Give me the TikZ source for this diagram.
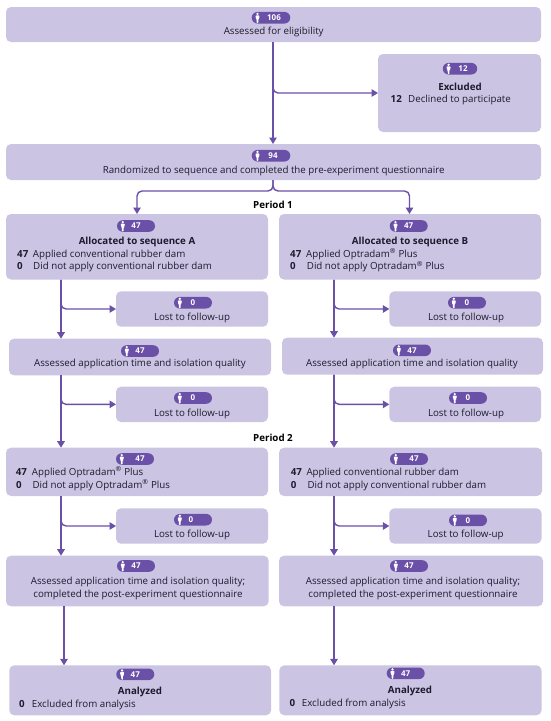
\documentclass[tikz,border=0pt]{standalone}
\usepackage{fontspec}
\setmainfont{Open Sans}
\usetikzlibrary{arrows.meta}
\definecolor{boxfill}{HTML}{CBC5E3}
\definecolor{pillfill}{HTML}{6A50A7}
\definecolor{txt}{HTML}{1E1A2E}
\tikzset{
  x=1pt,y=-1pt,
  flowbox/.style={fill=boxfill,draw=none,rounded corners=5pt,inner sep=0pt,outer sep=0pt},
  pillbox/.style={fill=pillfill,draw=none,rounded corners=5.8pt,inner sep=0pt,minimum height=11.6pt,
    text=white,font=\fontsize{8}{8}\selectfont\bfseries},
  lab/.style={inner sep=0pt,text=txt,anchor=mid,yshift=-0.9pt,font=\fontsize{9.75}{11}\selectfont},
  labb/.style={lab,font=\fontsize{9.75}{11}\selectfont\bfseries},
  labl/.style={lab,anchor=mid west},
  labn/.style={labb,anchor=mid west},
  period/.style={inner sep=0pt,anchor=mid,yshift=-0.9pt,text=black,font=\fontsize{9.75}{11}\selectfont\bfseries},
  flow/.style={draw=pillfill,line width=1.4pt,-{Triangle[length=6.5pt,width=7.5pt]}},
  branch/.style={flow,rounded corners=5pt},
}
% box from corners: name, x1, y1, x2, y2
\newcommand{\flowbox}[5]{\node[flowbox,minimum width=#4pt-#2pt,minimum height=#5pt-#3pt,anchor=north west] (#1) at (#2,#3) {};}
% pill: [number offset], name, cx, cy, width, number
\newcommand{\pillnode}[6][0pt]{%
  \node[pillbox,minimum width=#5pt] (#2) at (#3,#4) {\hspace*{#1}#6};
  \fill[white] ([xshift=6pt,yshift=3.9pt]#2.west) circle (1.3pt);
  \fill[white,rounded corners=0.8pt] ([xshift=3.9pt,yshift=2.4pt]#2.west) -- ([xshift=8.1pt,yshift=2.4pt]#2.west)
     -- ([xshift=7.6pt,yshift=-1pt]#2.west) -- ([xshift=6.9pt,yshift=-1pt]#2.west) -- ([xshift=6.8pt,yshift=-5.5pt]#2.west)
     -- ([xshift=5.2pt,yshift=-5.5pt]#2.west) -- ([xshift=5.1pt,yshift=-1pt]#2.west) -- ([xshift=4.4pt,yshift=-1pt]#2.west) -- cycle;
}
\begin{document}
\begin{tikzpicture}
\useasboundingbox (0,0) rectangle (550,721);
% boxes
\flowbox{elig}{6}{7}{541}{42}
\flowbox{excl}{378}{54}{541}{132}
\flowbox{rand}{6}{144}{541}{180}
\flowbox{seqA}{6}{214}{268}{279.5}
\flowbox{seqB}{279}{214}{541}{279.5}
\flowbox{lostA}{116}{291.3}{268}{326.7}
\flowbox{lostB}{389.3}{291.3}{541}{326.7}
\flowbox{asA}{9}{338.7}{271}{375.3}
\flowbox{asB}{282}{337.7}{543}{374.7}
\flowbox{lostC}{116}{386.7}{268}{422}
\flowbox{lostD}{389.3}{386.7}{541}{422}
\flowbox{appA}{6}{447.7}{268}{496}
\flowbox{appB}{279}{447.7}{542}{496}
\flowbox{lostE}{116}{508.3}{268}{543.7}
\flowbox{lostF}{389.3}{508.3}{541.5}{543.7}
\flowbox{postA}{6}{555.7}{268.7}{606.3}
\flowbox{postB}{279}{555.7}{543}{606.3}
\flowbox{anaA}{9.3}{665.3}{271}{715.3}
\flowbox{anaB}{279.3}{665.3}{541.5}{715.3}
% pills
\pillnode[6pt]{p1}{271}{17.7}{38.6}{106}
\pillnode[6pt]{p2}{460}{68.7}{34.4}{12}
\pillnode[4pt]{p3}{271}{155.7}{38.6}{94}
\pillnode{p4}{136}{226}{38}{47}
\pillnode{p5}{408.7}{226}{38}{47}
\pillnode{p6}{193}{302.7}{38}{0}
\pillnode{p7}{467}{302.7}{38}{0}
\pillnode{p8}{140}{351}{38}{47}
\pillnode{p9}{412}{350.3}{38}{47}
\pillnode{p10}{193}{398}{38}{0}
\pillnode{p11}{468}{398}{38}{0}
\pillnode[10pt]{p12}{135}{459}{38}{47}
\pillnode[10pt]{p13}{409}{459}{38}{47}
\pillnode[-4pt]{p14}{193}{519.7}{38}{0}
\pillnode{p15}{468}{520.3}{38}{0}
\pillnode{p16}{136}{566}{38}{47}
\pillnode{p17}{409}{566}{38}{47}
\pillnode{p18}{135.3}{674.3}{38}{47}
\pillnode{p19}{405.7}{673.3}{38}{47}
% texts
\node[lab] (t1) at (273.7,31.2) {Assessed for eligibility};
\node[labb] (t2) at (460,86.7) {Excluded};
\node[labn] (t3) at (390.5,99.3) {12};
\node[labl] (t4) at (408,99.3) {Declined to participate};
\node[lab] (t5) at (273.7,170) {Randomized to sequence and completed the pre-experiment questionnaire};
\node[period] (per1) at (273,205) {Period 1};
\node[labb] (t6) at (137,241) {Allocated to sequence A};
\node[labn] (t7) at (17,253.7) {47};
\node[labl] (t8) at (32.7,253.7) {Applied conventional rubber dam};
\node[labn] (t9) at (17,266.3) {0};
\node[labl] (t10) at (33,266.3) {Did not apply conventional rubber dam};
\node[labb] (t11) at (410,241) {Allocated to sequence B};
\node[labn] (t12) at (290,253.7) {47};
\node[labl] (t13) at (306,253.7) {Applied Optradam\textsuperscript{®} Plus};
\node[labn] (t14) at (290,266.3) {0};
\node[labl] (t15) at (306.7,266.3) {Did not apply Optradam\textsuperscript{®} Plus};
\node[lab] (t16) at (192,316.7) {Lost to follow-up};
\node[lab] (t17) at (466,316.7) {Lost to follow-up};
\node[lab] (t18) at (140,363.3) {Assessed application time and isolation quality};
\node[lab] (t19) at (412,362.7) {Assessed application time and isolation quality};
\node[lab] (t20) at (192,412.7) {Lost to follow-up};
\node[lab] (t21) at (466,412.7) {Lost to follow-up};
\node[period] (per2) at (273,438) {Period 2};
\node[labn] (t22) at (15.7,472) {47};
\node[labl] (t23) at (31.7,472) {Applied Optradam\textsuperscript{®} Plus};
\node[labn] (t24) at (16,484.7) {0};
\node[labl] (t25) at (32.3,484.7) {Did not apply Optradam\textsuperscript{®} Plus};
\node[labn] (t26) at (290.7,472) {47};
\node[labl] (t27) at (306.3,472) {Applied conventional rubber dam};
\node[labn] (t28) at (290.7,484.7) {0};
\node[labl] (t29) at (307.3,484.7) {Did not apply conventional rubber dam};
\node[lab] (t30) at (192,534.3) {Lost to follow-up};
\node[lab] (t31) at (465.7,534.3) {Lost to follow-up};
\node[lab] (t32) at (138,581) {Assessed application time and isolation quality;};
\node[lab] (t33) at (138,593.7) {completed the post-experiment questionnaire};
\node[lab] (t34) at (413,581) {Assessed application time and isolation quality;};
\node[lab] (t35) at (413,593.7) {completed the post-experiment questionnaire};
\node[labb] (t36) at (140,691) {Analyzed};
\node[labn] (t37) at (19,703.7) {0};
\node[labl] (t38) at (31.7,703.7) {Excluded from analysis};
\node[labb] (t39) at (410,690) {Analyzed};
\node[labn] (t40) at (289.3,702.7) {0};
\node[labl] (t41) at (301.7,702.7) {Excluded from analysis};
% trunk reference lines
\coordinate (xm) at (273,0);
\coordinate (xa) at (137,0);
\coordinate (xb) at (409.5,0);
\coordinate (xl) at (61,0);
\coordinate (xr) at (334,0);
\coordinate (xp) at (64,0);
\coordinate (ysplit) at (0,191);
% connectors
\draw[flow] (elig.south -| xm) -- (rand.north -| xm);
\draw[branch] (elig.south -| xm) -- (xm |- excl.west) -- (excl.west);
\draw[branch] (rand.south -| xm) -- (xm |- ysplit) -- (xa |- ysplit) -- (seqA.north -| xa);
\draw[branch] (rand.south -| xm) -- (xm |- ysplit) -- (xb |- ysplit) -- (seqB.north -| xb);
\draw[flow] (seqA.south -| xl) -- (asA.north -| xl);
\draw[branch] (seqA.south -| xl) -- (xl |- lostA.west) -- (lostA.west);
\draw[flow] (seqB.south -| xr) -- (asB.north -| xr);
\draw[branch] (seqB.south -| xr) -- (xr |- lostB.west) -- (lostB.west);
\draw[flow] (asA.south -| xl) -- (appA.north -| xl);
\draw[branch] (asA.south -| xl) -- (xl |- lostC.west) -- (lostC.west);
\draw[flow] (asB.south -| xr) -- (appB.north -| xr);
\draw[branch] (asB.south -| xr) -- (xr |- lostD.west) -- (lostD.west);
\draw[flow] (appA.south -| xl) -- (postA.north -| xl);
\draw[branch] (appA.south -| xl) -- (xl |- lostE.west) -- (lostE.west);
\draw[flow] (appB.south -| xr) -- (postB.north -| xr);
\draw[branch] (appB.south -| xr) -- (xr |- lostF.west) -- (lostF.west);
\draw[flow] (postA.south -| xp) -- (anaA.north -| xp);
\draw[flow] (postB.south -| xr) -- (anaB.north -| xr);
\end{tikzpicture}
\end{document}
